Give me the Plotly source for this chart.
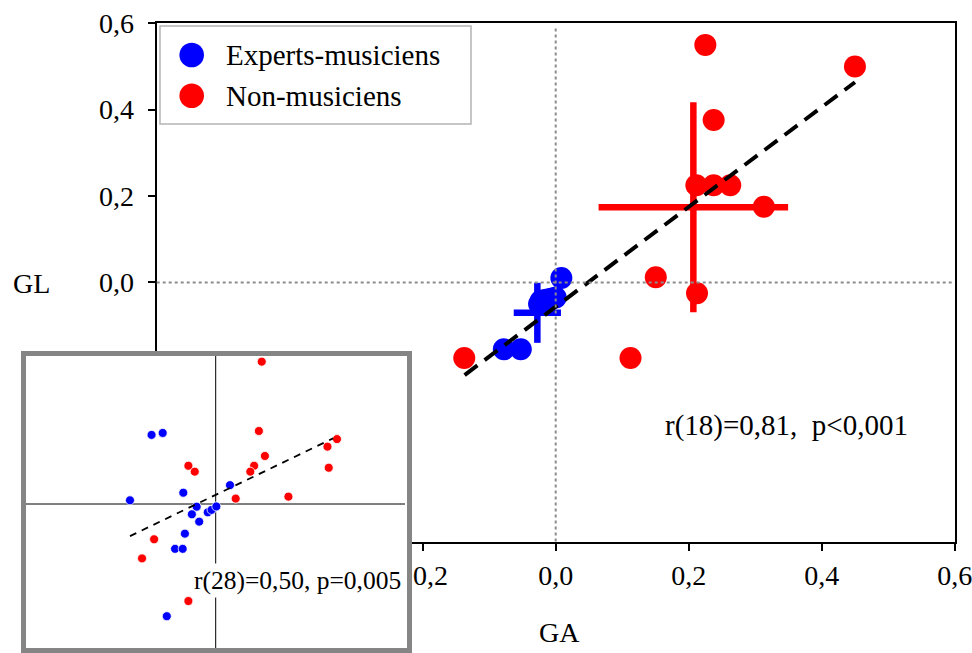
import plotly.graph_objects as go

# ---------------- data ----------------
series_names = ["Experts-musiciens", "Non-musiciens"]

# main panel: GA (x) vs GL (y)
red_ga = [0.225, 0.45, 0.2375, 0.2115, 0.2375, 0.2625, 0.313, 0.1505, 0.2125, -0.1375, 0.1125]
red_gl = [0.55, 0.50, 0.376, 0.225, 0.225, 0.225, 0.175, 0.012, -0.025, -0.175, -0.175]
blue_ga = [0.0085, 0.0, -0.0075, -0.015, -0.0225, -0.025, -0.02, -0.0525, -0.078]
blue_gl = [0.01, -0.035, -0.038, -0.04, -0.0425, -0.05, -0.045, -0.155, -0.155]

# group means and spreads (crosses)
red_mean = [0.207, 0.174]
red_spread = [0.1425, 0.243]
blue_mean = [-0.0276, -0.0704]
blue_spread = [0.0355, 0.0695]

# regression line end points (main)
fit_x = [-0.137, 0.45]
fit_y = [-0.2145, 0.4635]
stat_main = "r(18)=0,81,\u00a0\u00a0p<0,001"

# inset panel
inset_red_x = [0.145, 0.136, 0.382, 0.352, 0.155, -0.086, 0.121, -0.066, 0.109, 0.356, 0.063, 0.229, -0.194, -0.232, -0.086]
inset_red_y = [0.581, 0.298, 0.265, 0.234, 0.196, 0.156, 0.156, 0.132, 0.132, 0.148, 0.022, 0.030, -0.144, -0.222, -0.396]
inset_blue_x = [-0.202, -0.167, -0.102, -0.270, 0.045, -0.060, -0.075, -0.052, -0.025, -0.013, 0.002, -0.097, -0.128, -0.104, -0.154]
inset_blue_y = [0.282, 0.290, 0.046, 0.015, 0.077, -0.011, -0.042, -0.072, -0.034, -0.024, -0.010, -0.121, -0.183, -0.183, -0.458]
inset_fit_x = [-0.270, 0.370]
inset_fit_y = [-0.131, 0.268]
stat_inset = "r(28)=0,50, p=0,005"

tick_vals = [-0.6, -0.4, -0.2, 0.0, 0.2, 0.4, 0.6]
tick_text = ["\u22120,6", "\u22120,4", "\u22120,2", "0,0", "0,2", "0,4", "0,6"]
x_title = "GA"
y_title = "GL"

# ---------------- layout geometry (pixels) ----------------
W, H = 972, 653
FONT = "Liberation Serif"
BLUE, RED = "#0000ff", "#ff0000"

def fx(px):
    return px / W

def fy(py):
    return 1 - py / H

main_l, main_r, main_t, main_b = 156.7, 954.7, 23.3, 541.5
ins_l, ins_r, ins_t, ins_b = 21.0, 412.0, 351.0, 653.0
ins_x0px, ins_y0px = 215.7, 504.0   # pixel position of inset origin
ins_kx, ins_ky = 317.5, 245.0       # pixels per unit in inset

fig = go.Figure()

# crosses (means +/- spread)
for mean, spread, col in [(red_mean, red_spread, RED), (blue_mean, blue_spread, BLUE)]:
    fig.add_trace(go.Scatter(
        x=[mean[0]], y=[mean[1]], mode="markers",
        marker=dict(size=1, color=col, opacity=0),
        error_x=dict(type="data", array=[spread[0]], visible=True, width=0, thickness=6.5, color=col),
        error_y=dict(type="data", array=[spread[1]], visible=True, width=0, thickness=6.5, color=col),
        showlegend=False, hoverinfo="skip"))

fig.add_trace(go.Scatter(x=red_ga, y=red_gl, mode="markers", name=series_names[1],
                         marker=dict(size=22, color=RED, line=dict(width=0)), showlegend=False))
fig.add_trace(go.Scatter(x=blue_ga, y=blue_gl, mode="markers", name=series_names[0],
                         marker=dict(size=22, color=BLUE, line=dict(width=0)), showlegend=False))
fig.add_trace(go.Scatter(x=fit_x, y=fit_y, mode="lines",
                         line=dict(color="black", width=4, dash="16px,9px"),
                         showlegend=False, hoverinfo="skip"))

# inset traces
fig.add_trace(go.Scatter(x=inset_red_x, y=inset_red_y, mode="markers", xaxis="x2", yaxis="y2",
                         marker=dict(size=9, color=RED, line=dict(width=0.8, color="white")),
                         showlegend=False))
fig.add_trace(go.Scatter(x=inset_blue_x, y=inset_blue_y, mode="markers", xaxis="x2", yaxis="y2",
                         marker=dict(size=9, color=BLUE, line=dict(width=0.8, color="white")),
                         showlegend=False))
fig.add_trace(go.Scatter(x=inset_fit_x, y=inset_fit_y, mode="lines", xaxis="x2", yaxis="y2",
                         line=dict(color="black", width=1.8, dash="7px,6px"),
                         showlegend=False, hoverinfo="skip"))

axis_common = dict(showgrid=False, zeroline=False, showline=True, linecolor="black", linewidth=2,
                   mirror=True, ticks="outside", ticklen=7, tickwidth=2, tickcolor="black",
                   tickfont=dict(family=FONT, size=28, color="black"), automargin=False,
                   ticklabeloverflow="allow",
                   tickvals=tick_vals, ticktext=tick_text, range=[-0.6, 0.6])

ins_xr = [(ins_l - ins_x0px) / ins_kx, (ins_r - ins_x0px) / ins_kx]
ins_yr = [(ins_y0px - ins_b) / ins_ky, (ins_y0px - ins_t) / ins_ky]

fig.update_layout(
    template="none",
    width=W, height=H, autosize=False,
    margin=dict(l=0, r=0, t=0, b=0, pad=0, autoexpand=False),
    paper_bgcolor="white", plot_bgcolor="white",
    showlegend=False,
    xaxis=dict(domain=[fx(main_l), fx(main_r)], anchor="y", ticklabelstandoff=1, **axis_common),
    yaxis=dict(domain=[fy(main_b), fy(main_t)], anchor="x", ticklabelstandoff=8, **axis_common),
    xaxis2=dict(domain=[fx(ins_l), fx(ins_r)], anchor="y2", range=ins_xr, visible=False,
                fixedrange=True, automargin=False),
    yaxis2=dict(domain=[fy(ins_b), fy(ins_t)], anchor="x2", range=ins_yr, visible=False,
                fixedrange=True, automargin=False),
)

shapes = []
# inset background + frame (drawn in inset subplot layer, above main subplot)
bw = 5.0
shapes.append(dict(type="rect", xref="x2", yref="y2", layer="below",
                   x0=(ins_l + bw / 2 - ins_x0px) / ins_kx, x1=(ins_r - bw / 2 - ins_x0px) / ins_kx,
                   y0=(ins_y0px - (ins_b - bw / 2)) / ins_ky, y1=(ins_y0px - (ins_t + bw / 2)) / ins_ky,
                   fillcolor="white", line=dict(color="#858585", width=bw)))
# inset crosshair
shapes.append(dict(type="line", xref="x2", yref="y2", layer="below",
                   x0=0, x1=0, y0=(ins_y0px - (ins_b - bw)) / ins_ky, y1=(ins_y0px - (ins_t + bw)) / ins_ky,
                   line=dict(color="black", width=1)))
shapes.append(dict(type="line", xref="x2", yref="y2", layer="below",
                   y0=0, y1=0, x0=(ins_l + bw - ins_x0px) / ins_kx, x1=(ins_r - 7 - ins_x0px) / ins_kx,
                   line=dict(color="black", width=1)))
# dotted zero lines in main panel (on top of markers)
shapes.append(dict(type="line", xref="x", yref="y domain", layer="above", x0=0, x1=0, y0=0, y1=0.99,
                   line=dict(color="#8c8c8c", width=2, dash="dot")))
shapes.append(dict(type="line", xref="x domain", yref="y", layer="above", x0=0, x1=1, y0=0, y1=0,
                   line=dict(color="#8c8c8c", width=2, dash="dot")))
# legend box and symbols
shapes.append(dict(type="rect", xref="paper", yref="paper", layer="above",
                   x0=fx(160), x1=fx(471), y0=fy(124), y1=fy(26),
                   fillcolor="white", line=dict(color="#b4b4b4", width=1.5)))
for py, col in [(55, BLUE), (95.7, RED)]:
    shapes.append(dict(type="circle", xref="paper", yref="paper", layer="above",
                       xsizemode="pixel", ysizemode="pixel", xanchor=fx(191.7), yanchor=fy(py),
                       x0=-12.3, x1=12.3, y0=-12.3, y1=12.3,
                       fillcolor=col, line=dict(width=0)))
fig.update_layout(shapes=shapes)

ann = []
def txt(x, y, s, size=28, xanchor="center", **kw):
    ann.append(dict(x=x, y=y, xref="paper", yref="paper", text=s, showarrow=False,
                    xanchor=xanchor, yanchor="middle",
                    font=dict(family=FONT, size=size, color="black"), **kw))

txt(fx(31), fy(283), y_title)
txt(fx(559), fy(632), x_title)
txt(fx(786.7), fy(425), stat_main, size=29)
txt(fx(224), fy(55), series_names[0], size=29, xanchor="left")
txt(fx(224), fy(96), series_names[1], size=29, xanchor="left")
txt(fx(297.7), fy(580), stat_inset, size=25.5, bgcolor="white", borderpad=2)
fig.update_layout(annotations=ann)

fig.write_html("out.html", config={"displayModeBar": False},
               post_script="document.body.style.margin='0px';document.body.style.overflow='hidden';")
